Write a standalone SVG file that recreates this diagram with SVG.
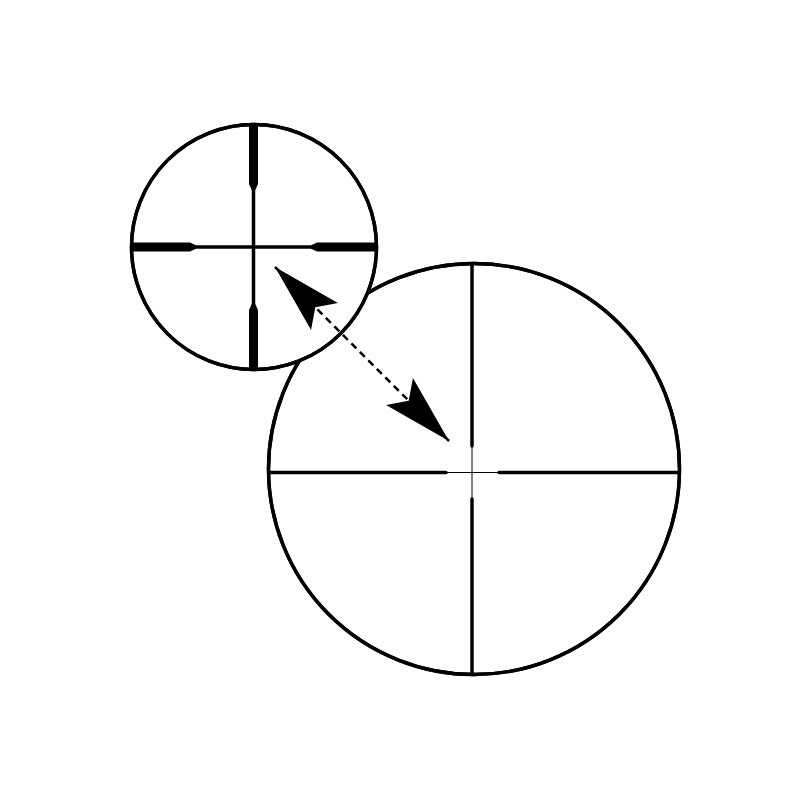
<svg xmlns="http://www.w3.org/2000/svg" width="800" height="800" viewBox="0 0 800 800">
  <style>
    .ring { fill: #ffffff; stroke: #000000; stroke-width: 3.4; }
    .hair { stroke: #000000; fill: none; }
    .post { fill: #000000; stroke: none; }
    .dash { stroke: #000000; stroke-width: 2.5; stroke-dasharray: 7 5; fill: none; }
  </style>
  <defs>
    <clipPath id="clipLarge"><circle cx="474" cy="469" r="205"/></clipPath>
    <clipPath id="clipSmall"><circle cx="254" cy="247" r="122"/></clipPath>
    <marker id="head" markerUnits="userSpaceOnUse" viewBox="-72 -21 74 42" markerWidth="74" markerHeight="42" refX="0" refY="0" orient="auto-start-reverse">
      <path d="M0,0 L-70,-19 L-57,0 L-70,19 Z" fill="#000000"/>
    </marker>
  </defs>
  <rect x="0" y="0" width="800" height="800" fill="#ffffff"/>

  <g id="scope-large">
    <circle class="ring" cx="474" cy="469" r="205.5"/>
    <g clip-path="url(#clipLarge)">
      <line class="hair" x1="472" y1="260" x2="472" y2="680" stroke-width="1"/>
      <line class="hair" x1="262" y1="472.5" x2="686" y2="472.5" stroke-width="1"/>
      <g class="hair" stroke-width="3.5" stroke-linecap="round">
        <line x1="472" y1="255" x2="472" y2="446"/>
        <line x1="472" y1="499" x2="472" y2="690"/>
        <line x1="255" y1="472.5" x2="446" y2="472.5"/>
        <line x1="499" y1="472.5" x2="690" y2="472.5"/>
      </g>
    </g>
    <circle cx="474" cy="469" r="205.5" fill="none" stroke="#000000" stroke-width="3.4"/>
  </g>

  <g id="scope-small">
    <circle class="ring" cx="254" cy="247" r="122.5"/>
    <g clip-path="url(#clipSmall)">
      <line class="hair" x1="253.5" y1="120" x2="253.5" y2="375" stroke-width="3.5"/>
      <line class="hair" x1="126" y1="247" x2="382" y2="247" stroke-width="3.5"/>
      <polygon class="post" points="249,118 258,118 258,184 255.25,190 251.75,190 249,184"/>
      <polygon class="post" points="249,376 258,376 258,310 255.25,304 251.75,304 249,310"/>
      <polygon class="post" points="125,242.5 125,251.5 190,251.5 196,248.75 196,245.25 190,242.5"/>
      <polygon class="post" points="383,242.5 383,251.5 317,251.5 311,248.75 311,245.25 317,242.5"/>
    </g>
    <circle cx="254" cy="247" r="122.5" fill="none" stroke="#000000" stroke-width="3.4"/>
  </g>

  <g id="connectors">
    <line class="dash" x1="275" y1="267" x2="449" y2="441" marker-start="url(#head)" marker-end="url(#head)"/>
  </g>
</svg>
